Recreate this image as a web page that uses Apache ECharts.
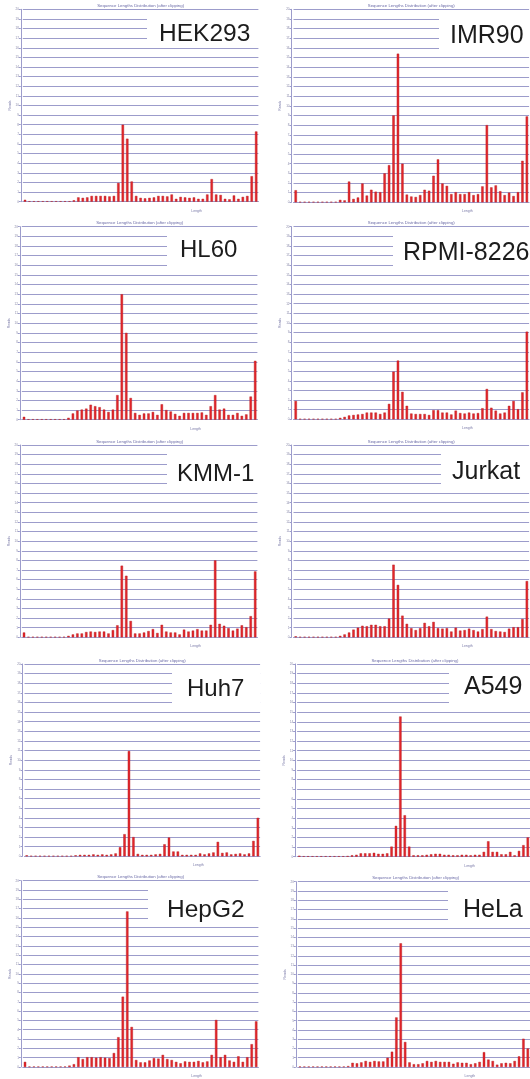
<!DOCTYPE html>
<html><head><meta charset="utf-8">
<script src="https://cdn.jsdelivr.net/npm/echarts@6/dist/echarts.min.js"></script>
<style>html,body{margin:0;padding:0;background:#fff}#c{width:530px;height:1079px}</style>
</head><body><div id="c"></div>
<script>
const lengths = ['1','2','3','4','5','6','7','8','9','10','11','12','13','14','15','16','17','18','19','20','21','22','23','24','25','26','27','28','29','30','31','32','33','34','35','36','37','38','39','40','41','42','43','44','45','46','47','48','49','50','51','52','53'];
const chartTitle = 'Sequence Lengths Distribution (after clipping)';
const xName = 'Length';
const yName = 'Reads';

const HEK293 = [0.2,0.05,0.05,0.05,0.05,0.05,0.05,0.05,0.05,0.05,0.05,0.15,0.45,0.4,0.45,0.6,0.6,0.6,0.6,0.55,0.6,1.95,8.0,6.55,2.1,0.6,0.4,0.35,0.4,0.45,0.6,0.6,0.55,0.75,0.3,0.5,0.45,0.4,0.45,0.3,0.3,0.75,2.35,0.75,0.7,0.3,0.25,0.65,0.3,0.5,0.6,2.65,7.3];
const IMR90 = [1.25,0.05,0.05,0.05,0.05,0.05,0.05,0.05,0.05,0.05,0.25,0.2,2.15,0.35,0.5,1.95,0.7,1.3,1.1,1.05,3.0,3.85,9.0,15.4,4.0,0.8,0.6,0.55,0.75,1.3,1.2,2.75,4.45,1.95,1.7,0.85,1.05,0.85,0.85,1.05,0.75,0.85,1.65,8.0,1.55,1.75,1.15,0.75,1.0,0.65,1.05,4.3,8.9];
const HL60 = [0.3,0.05,0.05,0.05,0.05,0.05,0.05,0.05,0.05,0.05,0.2,0.65,0.95,1.05,1.15,1.55,1.4,1.3,1.05,0.8,1.05,2.55,13.0,9.0,2.25,0.7,0.5,0.65,0.65,0.8,0.5,1.6,1.0,0.85,0.6,0.4,0.7,0.7,0.7,0.7,0.75,0.5,1.4,2.55,1.05,1.15,0.5,0.5,0.7,0.4,0.55,2.4,6.1];
const RPMI8226 = [1.9,0.05,0.05,0.05,0.05,0.05,0.05,0.05,0.05,0.05,0.15,0.25,0.4,0.45,0.5,0.55,0.7,0.7,0.7,0.55,0.7,1.6,4.95,6.1,2.85,1.4,0.6,0.55,0.55,0.55,0.45,0.95,0.95,0.7,0.7,0.5,0.9,0.65,0.6,0.7,0.6,0.65,1.15,3.15,1.2,0.9,0.6,0.7,1.4,1.9,1.05,2.8,9.1];
const KMM1 = [0.5,0.05,0.05,0.05,0.05,0.05,0.05,0.05,0.05,0.05,0.15,0.3,0.4,0.4,0.55,0.6,0.55,0.6,0.6,0.4,0.75,1.25,7.45,6.4,1.7,0.4,0.4,0.5,0.65,0.85,0.45,1.3,0.6,0.5,0.5,0.3,0.8,0.6,0.7,0.85,0.7,0.7,1.3,8.0,1.4,1.2,0.95,0.7,0.9,1.25,1.05,2.2,6.85];
const Jurkat = [0.1,0.05,0.05,0.05,0.05,0.05,0.05,0.05,0.05,0.05,0.15,0.3,0.5,0.8,1.0,1.2,1.15,1.3,1.3,1.15,1.15,1.95,7.55,5.45,2.25,1.4,0.95,0.75,0.95,1.5,1.15,1.6,0.95,0.9,0.95,0.6,1.0,0.7,0.75,0.9,0.75,0.6,0.85,2.15,0.85,0.65,0.6,0.55,0.9,1.05,1.05,1.9,5.85];
const Huh7 = [0.1,0.05,0.05,0.05,0.05,0.05,0.05,0.05,0.05,0.05,0.05,0.1,0.15,0.15,0.15,0.2,0.15,0.2,0.15,0.2,0.3,0.95,2.3,10.95,2.0,0.25,0.15,0.15,0.15,0.2,0.25,1.25,1.95,0.5,0.5,0.15,0.15,0.15,0.15,0.3,0.2,0.3,0.4,1.5,0.35,0.4,0.2,0.25,0.3,0.2,0.3,1.6,4.0];
const A549 = [0.1,0.05,0.05,0.05,0.05,0.05,0.05,0.05,0.05,0.05,0.05,0.08,0.15,0.2,0.35,0.35,0.35,0.4,0.3,0.3,0.35,1.05,3.2,14.55,4.3,1.05,0.15,0.15,0.15,0.2,0.25,0.3,0.3,0.2,0.2,0.15,0.15,0.2,0.2,0.15,0.2,0.2,0.5,1.6,0.5,0.5,0.25,0.25,0.5,0.15,0.6,1.2,2.0];
const HepG2 = [0.55,0.05,0.05,0.05,0.05,0.05,0.05,0.05,0.05,0.05,0.15,0.3,1.05,0.85,1.05,1.05,1.0,1.05,1.0,0.95,1.5,3.2,7.55,16.7,4.3,0.75,0.5,0.5,0.7,0.95,0.9,1.3,0.85,0.75,0.55,0.4,0.6,0.55,0.55,0.65,0.5,0.6,1.3,5.05,1.05,1.3,0.7,0.55,1.15,0.55,1.05,2.45,4.9];
const HeLa = [0.05,0.05,0.05,0.05,0.05,0.05,0.05,0.05,0.05,0.05,0.05,0.1,0.45,0.4,0.5,0.65,0.55,0.65,0.6,0.6,1.0,1.65,5.35,13.35,2.7,0.5,0.3,0.3,0.4,0.65,0.55,0.65,0.55,0.55,0.55,0.35,0.5,0.45,0.45,0.3,0.4,0.55,1.6,0.8,0.65,0.25,0.4,0.45,0.4,0.65,1.15,3.05,2.0];

const panels = [
  {label:'HEK293', data:HEK293, left:22.8, top:9.3, base:201.7, box:[147,14,112,30], tx:159, ty:34.3, fs:24.5},
  {label:'IMR90', data:IMR90, left:293.5, top:9.3, base:202.3, box:[439,14,91,37], tx:450, ty:35.8, fs:25},
  {label:'HL60', data:HL60, left:21.8, top:226.7, base:419.7, box:[167,231,92,37], tx:180, ty:250, fs:24},
  {label:'RPMI-8226', data:RPMI8226, left:293.5, top:226.7, base:419.3, box:[393,231,137,37], tx:403, ty:253, fs:25},
  {label:'KMM-1', data:KMM1, left:21.8, top:445, base:637.3, box:[167,450,92,37], tx:177, ty:474, fs:24},
  {label:'Jurkat', data:Jurkat, left:293.5, top:445, base:637.3, box:[441,450,89,37], tx:452, ty:472.5, fs:25},
  {label:'Huh7', data:Huh7, left:24.5, top:664, base:856.3, box:[172,668,88,37], tx:187, ty:689, fs:24},
  {label:'A549', data:A549, left:297.1, top:664, base:856.7, box:[449,668,81,37], tx:464, ty:687.5, fs:25},
  {label:'HepG2', data:HepG2, left:22.8, top:880.7, base:1074, box:[148,886,111,37], tx:167, ty:910, fs:24.5},
  {label:'HeLa', data:HeLa, left:297.8, top:881.7, base:1074.3, box:[448,887,82,37], tx:463, ty:910, fs:25}
];

const PW = 235.6;
const gridC = '#9c9ccb';
const grids = [], xAxes = [], yAxes = [], series = [], graphics = [];
panels.forEach((p, i) => {
  grids.push({left:p.left, top:p.top, width:PW, height:p.base - p.top, containLabel:false});
  xAxes.push({type:'category', gridIndex:i, data:lengths, boundaryGap:true,
    axisLine:{show:true, lineStyle:{color:gridC, width:1}}, axisTick:{show:false}, axisLabel:{show:false},
    name:xName, nameLocation:'middle', nameGap:7,
    nameTextStyle:{fontSize:3.5, color:'#7a7aa8', padding:[0,0,0,112]}});
  yAxes.push({type:'value', gridIndex:i, min:0, max:20, interval:1, offset:2,
    axisLine:{show:true, lineStyle:{color:gridC, width:1}}, axisTick:{show:true, length:2, lineStyle:{color:gridC}},
    axisLabel:{fontSize:3, color:'#8a8aa8', margin:2},
    splitLine:{show:true, lineStyle:{color:gridC, width:1}},
    name:yName, nameLocation:'middle', nameRotate:90, nameGap:9,
    nameTextStyle:{fontSize:3.5, color:'#7a7aa8'}});
  series.push({type:'bar', xAxisIndex:i, yAxisIndex:i, data:p.data, barWidth:2.4,
    itemStyle:{color:'#e3262b', borderColor:'#b01a1e', borderWidth:0.4}, silent:true, animation:false});
  graphics.push({type:'text', x:p.left + PW/2, y:p.top - 3.5, z:50,
    style:{text:chartTitle, fontSize:4.3, fontFamily:'Liberation Sans', fill:'#6a6aa6', align:'center', verticalAlign:'middle'}});
  graphics.push({type:'rect', z:100, shape:{x:p.box[0], y:p.box[1], width:p.box[2], height:p.box[3]}, style:{fill:'#ffffff'}});
  graphics.push({type:'text', z:101, x:p.tx, y:p.ty,
    style:{text:p.label, fontSize:p.fs, fontFamily:'Liberation Sans', fill:'#1c1c1c', align:'left', verticalAlign:'middle'}});
});

const chart = echarts.init(document.getElementById('c'), null, {renderer:'canvas'});
chart.setOption({
  animation:false,
  backgroundColor:'#ffffff',
  grid:grids, xAxis:xAxes, yAxis:yAxes, series:series, graphic:graphics
});
</script></body></html>
